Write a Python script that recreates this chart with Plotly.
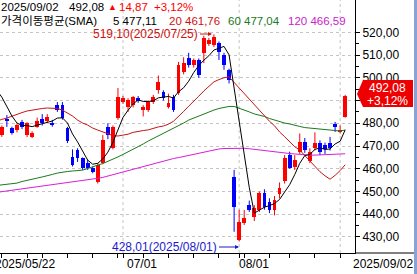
import plotly.graph_objects as go

dates = ["2025/05/22","2025/05/23","2025/05/26","2025/05/27","2025/05/28","2025/05/29","2025/05/30",
         "2025/06/02","2025/06/04","2025/06/05","2025/06/09","2025/06/10","2025/06/11","2025/06/12","2025/06/13",
         "2025/06/16","2025/06/17","2025/06/18","2025/06/19","2025/06/20","2025/06/23","2025/06/24","2025/06/25",
         "2025/06/26","2025/06/27","2025/06/30",
         "2025/07/01","2025/07/02","2025/07/03","2025/07/04","2025/07/07","2025/07/08","2025/07/09","2025/07/10",
         "2025/07/11","2025/07/14","2025/07/15","2025/07/16","2025/07/17","2025/07/18","2025/07/21","2025/07/22",
         "2025/07/23","2025/07/24","2025/07/25","2025/07/28","2025/07/29","2025/07/30","2025/07/31",
         "2025/08/01","2025/08/04","2025/08/05","2025/08/06","2025/08/07","2025/08/08","2025/08/11","2025/08/12",
         "2025/08/13","2025/08/14","2025/08/18","2025/08/19","2025/08/20","2025/08/21","2025/08/22","2025/08/25",
         "2025/08/26","2025/08/27","2025/08/28","2025/08/29","2025/09/01","2025/09/02"]

opens = [476.0,477.5,474.8,481.5,478.0,477.0,480.5,474.8,474.0,478.4,482.0,481.0,480.1,488.0,488.0,477.9,
         465.2,468.2,464.7,462.5,460.3,454.2,462.5,478.4,469.1,482.3,489.3,487.1,488.0,491.0,485.8,485.8,
         489.3,494.6,493.7,487.1,491.5,493.3,502.5,508.7,505.6,507.8,510.9,514.9,514.4,515.3,510.0,503.4,
         456.4,428.8,436.1,444.0,438.8,441.9,449.4,445.4,441.9,449.0,454.8,466.0,460.8,467.3,471.7,463.4,
         469.1,471.3,470.4,471.3,479.5,476.3,482.7]
highs = [479.0,481.0,479.0,483.6,478.5,480.0,481.5,480.5,476.5,482.5,484.0,484.0,481.5,489.3,489.3,478.4,
         468.5,469.0,465.0,464.0,461.0,462.5,474.8,480.0,479.0,495.5,492.0,491.0,492.0,492.0,488.0,490.0,
         492.5,501.0,494.5,493.0,492.5,507.0,509.0,511.0,508.5,508.5,518.5,517.5,519.1,516.0,511.0,504.0,
         459.5,442.0,441.9,446.0,444.0,450.0,451.0,447.0,448.0,454.0,466.0,467.5,466.0,475.5,473.5,469.0,
         476.0,472.5,471.5,474.0,480.6,479.0,492.5]
lows = [474.5,476.0,474.0,478.4,475.0,476.0,477.5,473.9,473.5,478.0,479.0,480.0,478.5,485.0,481.6,471.3,
        461.0,463.0,459.5,459.5,458.0,453.5,462.0,473.0,468.5,481.5,488.5,485.0,487.0,489.0,483.0,485.0,
        488.5,493.0,490.0,486.5,485.0,492.5,501.5,504.5,504.5,500.0,506.5,514.0,513.5,507.8,503.5,497.5,
        432.3,428.01,435.3,441.0,437.0,441.0,442.0,440.5,439.5,447.0,453.5,460.0,459.5,466.5,467.0,462.5,
        468.0,466.0,466.5,468.0,476.2,475.5,482.5]
closes = [477.0,479.0,478.4,481.0,475.7,479.2,478.4,480.1,475.7,481.0,480.1,482.8,479.2,485.8,482.3,472.2,
          461.5,464.7,460.3,460.3,458.6,461.6,472.6,474.8,478.4,491.5,491.0,490.2,491.5,489.8,487.1,489.3,
          491.5,498.1,491.1,488.9,485.8,505.6,506.6,505.6,507.8,501.2,517.5,516.6,517.9,511.3,505.6,499.0,
          443.2,436.6,438.3,441.9,442.7,449.4,443.3,441.9,446.3,451.6,464.7,460.3,463.9,471.7,468.2,467.3,
          471.3,467.3,468.5,469.1,478.5,477.21,492.08]

ma5 = [497.0,494.5,491.5,487.2,483.2,480.1,479.0,479.0,478.5,479.2,479.8,480.6,481.0,482.3,482.4,480.1,
       475.3,471.8,467.8,463.8,462.0,462.4,464.3,467.3,471.6,477.5,482.6,485.7,488.5,490.3,489.6,489.6,
       489.8,491.2,491.4,491.8,491.1,493.9,495.6,498.5,502.3,505.4,507.7,509.7,512.2,512.9,513.8,510.1,
       495.4,479.1,464.5,451.8,440.5,441.8,443.1,443.8,444.7,446.5,449.6,453.0,457.4,462.4,465.8,466.3,
       468.5,469.2,468.5,468.7,470.9,472.1,477.11]
ma20 = [480.1,481.0,481.7,482.3,483.2,484.1,484.7,485.4,485.8,486.3,486.5,486.7,486.7,486.5,485.8,484.5,
        483.2,481.4,480.1,479.2,477.9,477.0,476.2,475.3,474.6,474.4,474.7,475.2,476.0,476.5,476.8,477.1,
        477.8,478.4,478.8,479.6,480.9,482.9,485.2,487.5,489.9,491.9,494.2,496.3,498.2,499.2,500.0,500.4,
        498.0,495.3,492.9,490.5,488.1,485.6,483.2,480.9,478.9,476.2,474.1,471.9,469.7,468.2,465.7,463.3,
        460.9,458.7,456.9,455.4,457.1,459.2,461.76]
ma60 = [452.4,452.6,452.8,453.3,453.5,453.7,454.4,455.0,455.5,455.9,456.4,456.8,457.5,458.1,458.6,458.8,
        459.0,459.2,459.4,460.1,461.0,461.6,462.3,463.2,464.3,465.2,466.3,467.4,468.5,469.8,470.9,472.2,
        473.3,474.4,475.5,476.6,477.7,479.0,480.1,481.4,482.3,483.2,484.3,485.2,485.8,486.5,486.9,487.4,
        487.4,486.7,485.8,485.0,484.1,483.6,483.0,482.1,481.4,480.8,480.1,479.7,479.0,478.6,478.1,477.9,
        477.7,477.5,477.3,477.0,476.8,476.6,477.04]
ma120 = [449.3,449.6,449.8,450.1,450.4,450.9,451.2,451.5,451.9,452.1,452.4,452.7,452.9,453.2,453.5,453.7,
         454.0,454.4,454.7,455.0,455.5,455.8,456.2,456.8,457.4,457.9,458.6,459.2,459.9,460.5,461.2,461.8,
         462.4,463.0,463.5,464.1,464.5,464.9,465.4,465.8,466.3,466.8,467.4,467.8,468.2,468.7,468.9,469.0,
         469.1,469.1,469.0,468.8,468.5,468.3,468.1,467.8,467.5,467.2,466.9,466.7,466.5,466.3,466.0,466.0,
         466.0,466.1,466.2,466.3,466.4,466.5,466.59]

price_ticks = [430, 440, 450, 460, 470, 480, 490, 500, 510, 520]
price_ticktext = ["430,00","440,00","450,00","460,00","470,00","480,00","","500,00","510,00","520,00"]
minor_ticks = [435, 445, 455, 465, 475, 485, 495, 505, 515]

RED = "#ff0000"
BLUE = "#0000ff"
W, H = 355.0, 253.0   # plot area in pixels

def px(x):
    return x / W

def py(y):
    return 1 - y / H

xs = list(range(len(dates)))
up = [i for i in xs if closes[i] >= opens[i]]
dn = [i for i in xs if closes[i] < opens[i]]

fig = go.Figure()

def wick_trace(idx, color):
    wx, wy = [], []
    for i in idx:
        wx += [i, i, None]
        wy += [lows[i], highs[i], None]
    return go.Scatter(x=wx, y=wy, mode="lines", line=dict(color=color, width=1),
                      hoverinfo="skip", showlegend=False)

fig.add_trace(wick_trace(up, RED))
fig.add_trace(wick_trace(dn, BLUE))

def body_trace(idx, color):
    base = [min(opens[i], closes[i]) for i in idx]
    hgt = [max(abs(closes[i] - opens[i]), 0.45) for i in idx]
    return go.Bar(x=idx, y=hgt, base=base, width=0.75, marker=dict(color=color, line=dict(width=0)),
                  showlegend=False)

fig.add_trace(body_trace(up, RED))
fig.add_trace(body_trace(dn, BLUE))

for vals, col in [(ma120, "#d81ed8"), (ma60, "#1a7a1a"), (ma20, "#c81414"), (ma5, "#000000")]:
    fig.add_trace(go.Scatter(x=xs, y=vals, mode="lines", line=dict(color=col, width=1),
                             showlegend=False, hoverinfo="skip"))

FONT = "Liberation Sans, Noto Sans CJK KR, sans-serif"

week_ticks = [2, 7, 10, 15, 20, 25, 26, 30, 35, 40, 45, 49, 50, 55, 59, 64, 69]

fig.update_layout(
    width=417, height=274,
    margin=dict(l=0, r=62, t=0, b=21, pad=0),
    paper_bgcolor="white", plot_bgcolor="white",
    barmode="overlay", bargap=0,
    showlegend=False,
    font=dict(family=FONT, size=12, color="black"),
    xaxis=dict(range=[1.64, 71.94], showgrid=False, zeroline=False, showline=True,
               linecolor="#000000", linewidth=1, ticks="outside", ticklen=4, tickcolor="#000000",
               tickvals=week_ticks, showticklabels=False),
    yaxis=dict(side="right", range=[422.96, 534.2], tickvals=price_ticks, ticktext=price_ticktext,
               ticks="outside", ticklen=4, tickcolor="#000000", showline=True, linecolor="#000000",
               linewidth=1, showgrid=True, gridcolor="#c4c4c4", griddash="3px,3px", gridwidth=1,
               zeroline=False, tickfont=dict(family=FONT, size=12, color="black"),
               minor=dict(tickvals=minor_ticks, ticks="outside", ticklen=3, tickcolor="#000000",
                          showgrid=False)),
)

# month grid lines
for m in [26, 49, 69]:
    fig.add_shape(type="line", x0=m, x1=m, y0=0, y1=1, xref="x", yref="paper",
                  line=dict(color="#c4c4c4", width=1, dash="3px,3px"), layer="below")

def label(x, y, text, color="black", anchor="left", size=12):
    fig.add_annotation(x=px(x), y=py(y), xref="paper", yref="paper", text=text, showarrow=False,
                       xanchor=anchor, yanchor="middle", borderpad=0,
                       font=dict(family=FONT, size=size, color=color))

# header
Y1, Y2, HS = 7.2, 20.6, 11.5
label(0, Y1, "2025/09/02", size=HS)
label(68, Y1, "492,08", size=HS)
label(107, Y1, "▲", RED, size=9)
label(118, Y1, "14,87", RED, size=HS)
label(153, Y1, "+3,12%", RED, size=HS)
label(0, Y2, "가격이동평균(SMA)", size=HS)
label(112, Y2, "5 477,11", size=HS)
label(168, Y2, "20 461,76", "#d01010", size=HS)
label(227, Y2, "60 477,04", "#1a7a1a", size=HS)
label(287, Y2, "120 466,59", "#cc22cc", size=HS)

# x labels
label(-6.5, 264, "2025/05/22")
label(126, 264, "07/01")
label(238, 264, "08/01")
label(352, 264, "2025/09/02")

# high / low markers
fig.add_annotation(x=px(212), y=py(34), xref="paper", yref="paper", ax=-12, ay=0, axref="pixel",
                   ayref="pixel", text="519,10(2025/07/25)", showarrow=True, arrowhead=2, arrowsize=0.8,
                   arrowwidth=1, arrowcolor="#d01010", xanchor="right",
                   font=dict(family=FONT, size=12, color="#d01010"))
fig.add_annotation(x=px(239), y=py(247), xref="paper", yref="paper", ax=-20, ay=0, axref="pixel",
                   ayref="pixel", text="428,01(2025/08/01)", showarrow=True, arrowhead=2, arrowsize=0.8,
                   arrowwidth=1, arrowcolor="#1a1acc", xanchor="right",
                   font=dict(family=FONT, size=12, color="#1a1acc"))

# current price tag
tag = "M {0},{1} L {2},{3} L {4},{3} L {4},{5} L {2},{5} Z".format(
    px(357), py(94), px(363), py(80), px(413), py(107))
fig.add_shape(type="path", path=tag, xref="paper", yref="paper", fillcolor="#ee0000",
              line=dict(width=0), layer="above")
label(387, 88, "492,08", "white", "center")
label(387, 101, "+3,12%", "white", "center")

# bottom axis line in the scale area, frame details
fig.add_shape(type="line", x0=px(355), x1=px(417), y0=py(253), y1=py(253), xref="paper", yref="paper",
              line=dict(color="#000000", width=1))
fig.add_shape(type="rect", x0=px(414), x1=px(418), y0=py(274), y1=py(0), xref="paper", yref="paper",
              fillcolor="#8aa2d4", line=dict(width=0))

fig.write_html("out.html")
